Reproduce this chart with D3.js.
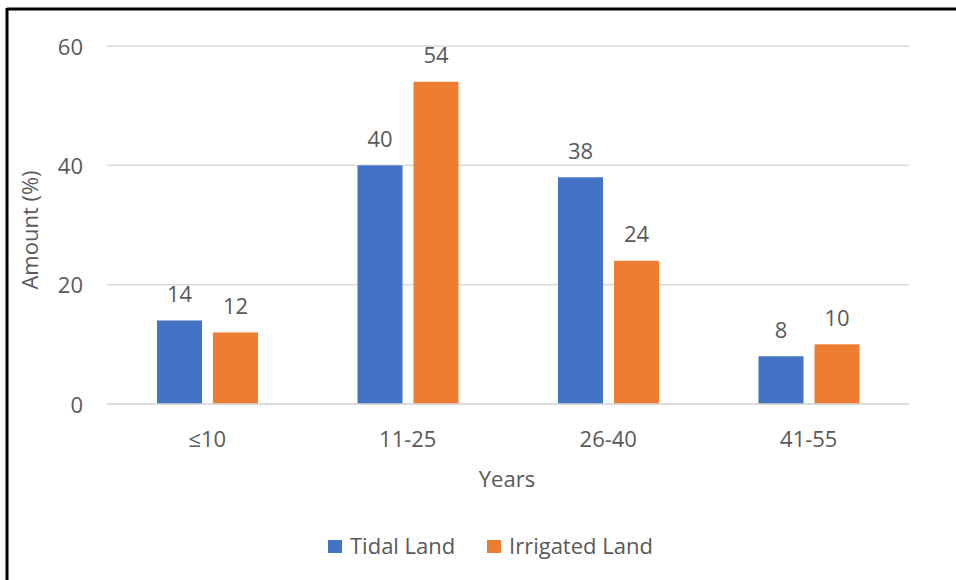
<!DOCTYPE html>
<html><head><meta charset="utf-8">
<script src="https://cdn.jsdelivr.net/npm/d3@7"></script>
<style>body{margin:0;background:#fff}svg{display:block}text{font-family:"Open Sans","Noto Sans",sans-serif;fill:#595959}</style>
</head><body><svg id="c" width="956" height="580"></svg>
<script>
const categories = ["≤10","11-25","26-40","41-55"];
const tidal = [14,40,38,8];
const irrigated = [12,54,24,10];
const seriesNames = ["Tidal Land","Irrigated Land"];
const colors = ["#4472c4","#ed7d31"];
const yTicks = [0,20,40,60];

(function(){
const FS = 22;
const svg = d3.select("#c");
svg.append("rect").attr("x",0).attr("y",0).attr("width",956).attr("height",580).attr("fill","#fff");
svg.append("line").attr("x1",7).attr("x2",956).attr("y1",9).attr("y2",9).attr("stroke","#000").attr("stroke-width",3);
svg.append("line").attr("x1",7).attr("x2",7).attr("y1",8).attr("y2",580).attr("stroke","#000").attr("stroke-width",3);

const pLeft=107, pRight=909, pTop=46, pBottom=404;
const x = d3.scaleBand().domain(categories).range([pLeft,pRight]);
const y = d3.scaleLinear().domain([0,60]).range([pBottom,pTop]);
const series = [tidal, irrigated];
const x1 = d3.scaleBand().domain([0,1]).range([50,151]).paddingInner(0.196);

svg.append("g").selectAll("line").data(yTicks).join("line")
 .attr("x1",pLeft).attr("x2",pRight).attr("y1",d=>y(d)).attr("y2",d=>y(d))
 .attr("stroke","#d9d9d9").attr("stroke-width",1.5);

svg.append("g").selectAll("text").data(yTicks).join("text")
 .attr("x",83).attr("y",d=>y(d)+8.5).attr("text-anchor","end")
 .attr("font-size",FS).text(d=>d);

series.forEach((vals,si)=>{
  const gg = svg.append("g");
  gg.selectAll("rect").data(vals).join("rect")
   .attr("x",(d,i)=>x(categories[i])+x1(si)).attr("width",x1.bandwidth())
   .attr("y",d=>y(d)).attr("height",d=>pBottom-y(d)).attr("fill",colors[si]);
  gg.selectAll("text").data(vals).join("text")
   .attr("x",(d,i)=>x(categories[i])+x1(si)+x1.bandwidth()/2)
   .attr("y",d=>y(d)-18.5).attr("text-anchor","middle").attr("font-size",FS).text(d=>d);
});
svg.append("line").attr("x1",pLeft).attr("x2",pRight).attr("y1",pBottom).attr("y2",pBottom).attr("stroke","#d9d9d9").attr("stroke-width",1.5);

svg.append("g").selectAll("text").data(categories).join("text")
 .attr("x",d=>x(d)+x.bandwidth()/2).attr("y",447).attr("text-anchor","middle")
 .attr("font-size",FS).text(d=>d);

svg.append("text").attr("x",507).attr("y",487).attr("text-anchor","middle").attr("font-size",FS).text("Years");
svg.append("text").attr("transform","translate(38,230) rotate(-90)").attr("text-anchor","middle").attr("font-size",FS).text("Amount (%)");

const legX = [328,487];
seriesNames.forEach((n,i)=>{
  svg.append("rect").attr("x",legX[i]).attr("y",540).attr("width",14).attr("height",13).attr("fill",colors[i]);
  svg.append("text").attr("x",legX[i]+22).attr("y",554).attr("font-size",FS).text(n);
});
})();
</script></body></html>
